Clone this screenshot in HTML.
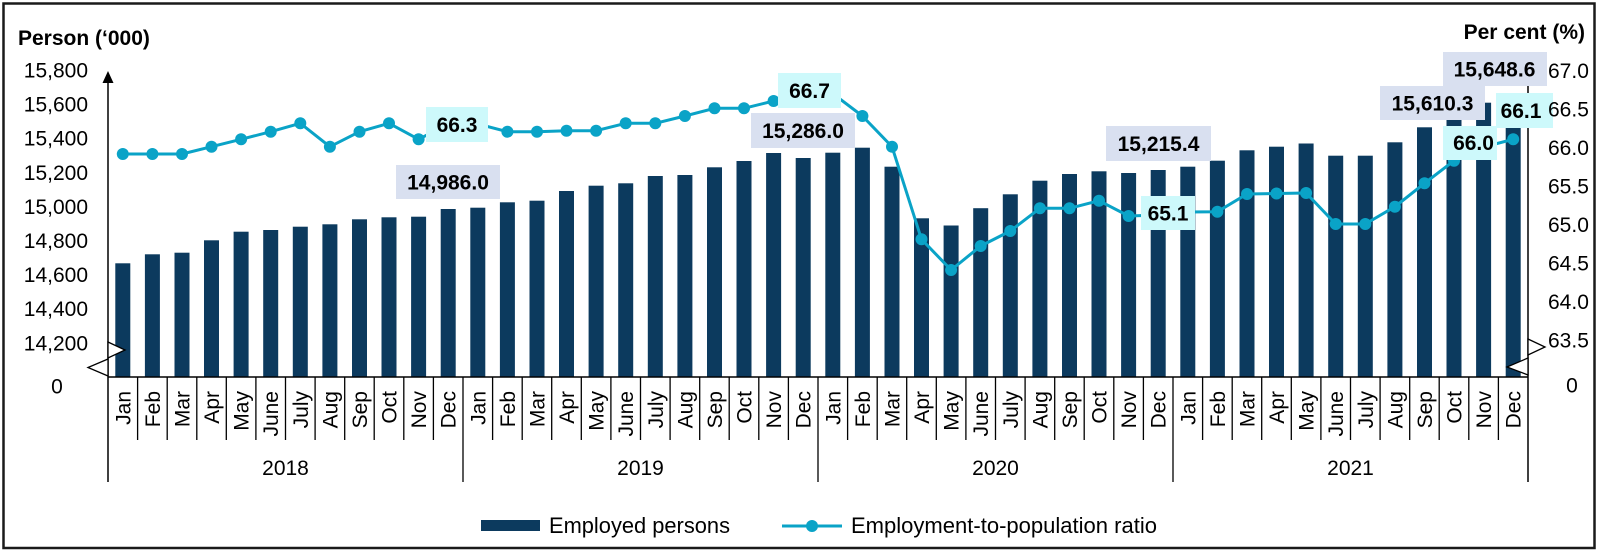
<!DOCTYPE html>
<html><head><meta charset="utf-8"><style>
html,body{margin:0;padding:0;background:#fff;}
svg{display:block;}
text{font-family:"Liberation Sans",Arial,sans-serif;fill:#000;}
.b{font-weight:bold;font-size:21px;}
.t{font-size:21px;}
</style></head><body>
<svg width="1600" height="554" viewBox="0 0 1600 554" xmlns="http://www.w3.org/2000/svg">
<rect x="0" y="0" width="1600" height="554" fill="#fff"/>
<rect x="3.5" y="3.5" width="1591" height="544.5" fill="none" stroke="#1a1a1a" stroke-width="2.5"/>

<!-- titles -->
<text class="b" x="18" y="45">Person (‘000)</text>
<text class="b" x="1585" y="39" text-anchor="end">Per cent (%)</text>

<!-- left tick labels -->
<g class="t" text-anchor="end">
<text x="88" y="77.5">15,800</text>
<text x="88" y="111.6">15,600</text>
<text x="88" y="145.7">15,400</text>
<text x="88" y="179.8">15,200</text>
<text x="88" y="213.9">15,000</text>
<text x="88" y="248">14,800</text>
<text x="88" y="282.1">14,600</text>
<text x="88" y="316.2">14,400</text>
<text x="88" y="350.3">14,200</text>
</g>
<text class="t" x="57" y="393.5" text-anchor="middle">0</text>

<!-- bars -->
<g fill="#0c3a5e">
<rect x="115.3" y="263.3" width="15" height="113.7"/>
<rect x="144.9" y="254.3" width="15" height="122.7"/>
<rect x="174.5" y="252.7" width="15" height="124.3"/>
<rect x="204.0" y="240.3" width="15" height="136.7"/>
<rect x="233.6" y="231.7" width="15" height="145.3"/>
<rect x="263.2" y="230" width="15" height="147"/>
<rect x="292.8" y="226.7" width="15" height="150.3"/>
<rect x="322.4" y="224.3" width="15" height="152.7"/>
<rect x="352.0" y="219.3" width="15" height="157.7"/>
<rect x="381.5" y="217.3" width="15" height="159.7"/>
<rect x="411.1" y="216.7" width="15" height="160.3"/>
<rect x="440.7" y="209" width="15" height="168"/>
<rect x="470.3" y="207.7" width="15" height="169.3"/>
<rect x="499.9" y="202.3" width="15" height="174.7"/>
<rect x="529.5" y="200.7" width="15" height="176.3"/>
<rect x="559.0" y="191" width="15" height="186"/>
<rect x="588.6" y="185.7" width="15" height="191.3"/>
<rect x="618.2" y="183.3" width="15" height="193.7"/>
<rect x="647.8" y="176" width="15" height="201"/>
<rect x="677.4" y="175" width="15" height="202"/>
<rect x="707.0" y="167.3" width="15" height="209.7"/>
<rect x="736.5" y="161" width="15" height="216"/>
<rect x="766.1" y="153" width="15" height="224"/>
<rect x="795.7" y="158" width="15" height="219"/>
<rect x="825.3" y="152.7" width="15" height="224.3"/>
<rect x="854.9" y="147.7" width="15" height="229.3"/>
<rect x="884.5" y="166.7" width="15" height="210.3"/>
<rect x="914.0" y="218.3" width="15" height="158.7"/>
<rect x="943.6" y="225.5" width="15" height="151.5"/>
<rect x="973.2" y="208.2" width="15" height="168.8"/>
<rect x="1002.8" y="194.3" width="15" height="182.7"/>
<rect x="1032.4" y="180.7" width="15" height="196.3"/>
<rect x="1062.0" y="174" width="15" height="203"/>
<rect x="1091.5" y="171.3" width="15" height="205.7"/>
<rect x="1121.1" y="173" width="15" height="204"/>
<rect x="1150.7" y="170" width="15" height="207"/>
<rect x="1180.3" y="166.7" width="15" height="210.3"/>
<rect x="1209.9" y="160.7" width="15" height="216.3"/>
<rect x="1239.5" y="150.3" width="15" height="226.7"/>
<rect x="1269.0" y="146.7" width="15" height="230.3"/>
<rect x="1298.6" y="143.5" width="15" height="233.5"/>
<rect x="1328.2" y="155.7" width="15" height="221.3"/>
<rect x="1357.8" y="155.7" width="15" height="221.3"/>
<rect x="1387.4" y="142.3" width="15" height="234.7"/>
<rect x="1417.0" y="127.3" width="15" height="249.7"/>
<rect x="1446.5" y="109" width="15" height="268"/>
<rect x="1476.1" y="102.7" width="15" height="274.3"/>
<rect x="1505.7" y="96" width="15" height="281"/>
</g>

<!-- axes -->
<line x1="108" y1="80" x2="108" y2="482" stroke="#000" stroke-width="1.5"/>
<polygon points="108,71 102.5,83 113.5,83" fill="#000"/>
<line x1="1528" y1="86" x2="1528" y2="482" stroke="#000" stroke-width="1.5"/>
<line x1="108" y1="377" x2="1528" y2="377" stroke="#000" stroke-width="1.5"/>

<!-- ticks -->
<path stroke="#000" stroke-width="1.3" fill="none" d="
M137.6 377V440 M167.2 377V440 M196.8 377V440 M226.3 377V440 M255.9 377V440 M285.5 377V440 M315.1 377V440 M344.7 377V440 M374.2 377V440 M403.8 377V440 M433.4 377V440
M463.0 377V482
M492.6 377V440 M522.2 377V440 M551.7 377V440 M581.3 377V440 M610.9 377V440 M640.5 377V440 M670.1 377V440 M699.7 377V440 M729.2 377V440 M758.8 377V440 M788.4 377V440
M818.0 377V482
M847.6 377V440 M877.2 377V440 M906.7 377V440 M936.3 377V440 M965.9 377V440 M995.5 377V440 M1025.1 377V440 M1054.7 377V440 M1084.2 377V440 M1113.8 377V440 M1143.4 377V440
M1173.0 377V482
M1202.6 377V440 M1232.2 377V440 M1261.7 377V440 M1291.3 377V440 M1320.9 377V440 M1350.5 377V440 M1380.1 377V440 M1409.7 377V440 M1439.2 377V440 M1468.8 377V440 M1498.4 377V440"/>

<!-- break symbols -->
<g fill="#fff" stroke="#000" stroke-width="1.3">
<polygon points="108,342 125,350 108,358"/>
<polygon points="108,359 88,367.5 108,376"/>
<polygon points="1528,339 1545,347 1528,355"/>
<polygon points="1528,358 1507,367 1528,375"/>
</g>

<!-- month labels -->
<g class="t" text-anchor="end">
<text transform="translate(130.3,391) rotate(-90)">Jan</text>
<text transform="translate(159.9,391) rotate(-90)">Feb</text>
<text transform="translate(189.5,391) rotate(-90)">Mar</text>
<text transform="translate(219.0,391) rotate(-90)">Apr</text>
<text transform="translate(248.6,391) rotate(-90)">May</text>
<text transform="translate(278.2,391) rotate(-90)">June</text>
<text transform="translate(307.8,391) rotate(-90)">July</text>
<text transform="translate(337.4,391) rotate(-90)">Aug</text>
<text transform="translate(367.0,391) rotate(-90)">Sep</text>
<text transform="translate(396.5,391) rotate(-90)">Oct</text>
<text transform="translate(426.1,391) rotate(-90)">Nov</text>
<text transform="translate(455.7,391) rotate(-90)">Dec</text>
<text transform="translate(485.3,391) rotate(-90)">Jan</text>
<text transform="translate(514.9,391) rotate(-90)">Feb</text>
<text transform="translate(544.5,391) rotate(-90)">Mar</text>
<text transform="translate(574.0,391) rotate(-90)">Apr</text>
<text transform="translate(603.6,391) rotate(-90)">May</text>
<text transform="translate(633.2,391) rotate(-90)">June</text>
<text transform="translate(662.8,391) rotate(-90)">July</text>
<text transform="translate(692.4,391) rotate(-90)">Aug</text>
<text transform="translate(722.0,391) rotate(-90)">Sep</text>
<text transform="translate(751.5,391) rotate(-90)">Oct</text>
<text transform="translate(781.1,391) rotate(-90)">Nov</text>
<text transform="translate(810.7,391) rotate(-90)">Dec</text>
<text transform="translate(840.3,391) rotate(-90)">Jan</text>
<text transform="translate(869.9,391) rotate(-90)">Feb</text>
<text transform="translate(899.5,391) rotate(-90)">Mar</text>
<text transform="translate(929.0,391) rotate(-90)">Apr</text>
<text transform="translate(958.6,391) rotate(-90)">May</text>
<text transform="translate(988.2,391) rotate(-90)">June</text>
<text transform="translate(1017.8,391) rotate(-90)">July</text>
<text transform="translate(1047.4,391) rotate(-90)">Aug</text>
<text transform="translate(1077.0,391) rotate(-90)">Sep</text>
<text transform="translate(1106.5,391) rotate(-90)">Oct</text>
<text transform="translate(1136.1,391) rotate(-90)">Nov</text>
<text transform="translate(1165.7,391) rotate(-90)">Dec</text>
<text transform="translate(1195.3,391) rotate(-90)">Jan</text>
<text transform="translate(1224.9,391) rotate(-90)">Feb</text>
<text transform="translate(1254.5,391) rotate(-90)">Mar</text>
<text transform="translate(1284.0,391) rotate(-90)">Apr</text>
<text transform="translate(1313.6,391) rotate(-90)">May</text>
<text transform="translate(1343.2,391) rotate(-90)">June</text>
<text transform="translate(1372.8,391) rotate(-90)">July</text>
<text transform="translate(1402.4,391) rotate(-90)">Aug</text>
<text transform="translate(1432.0,391) rotate(-90)">Sep</text>
<text transform="translate(1461.5,391) rotate(-90)">Oct</text>
<text transform="translate(1491.1,391) rotate(-90)">Nov</text>
<text transform="translate(1520.7,391) rotate(-90)">Dec</text>
</g>

<!-- year labels -->
<g class="t" text-anchor="middle">
<text x="285.5" y="475">2018</text>
<text x="640.5" y="475">2019</text>
<text x="995.5" y="475">2020</text>
<text x="1350.5" y="475">2021</text>
</g>

<!-- ratio line -->
<polyline fill="none" stroke="#0aa3c7" stroke-width="3" stroke-linejoin="round" points="
122.8,154 152.4,154 182.0,154 211.5,146.7 241.1,139.3 270.7,131.7 300.3,123.3 329.9,146.7 359.5,131.7 389.0,123.3 418.6,139.3 448.2,124 477.8,124 507.4,131.7 537.0,131.7 566.5,130.7 596.1,130.7 625.7,123.3 655.3,123.3 684.9,116 714.5,108.3 744.0,108.3 773.6,101 803.2,93.6 832.8,93.6 862.4,116 892.0,146.7 921.5,239.3 951.1,270 980.7,246 1010.3,231 1039.9,208.3 1069.5,208.3 1099.0,200.7 1128.6,216 1158.2,215 1187.8,212 1217.4,211.7 1247.0,194 1276.5,193.5 1306.1,193 1335.7,224 1365.3,224 1394.9,206.7 1424.5,183.3 1454.0,160.7 1483.6,147 1513.2,139.3"/>
<g fill="#0aa3c7">
<circle cx="122.8" cy="154" r="6"/><circle cx="152.4" cy="154" r="6"/><circle cx="182.0" cy="154" r="6"/><circle cx="211.5" cy="146.7" r="6"/><circle cx="241.1" cy="139.3" r="6"/><circle cx="270.7" cy="131.7" r="6"/><circle cx="300.3" cy="123.3" r="6"/><circle cx="329.9" cy="146.7" r="6"/><circle cx="359.5" cy="131.7" r="6"/><circle cx="389.0" cy="123.3" r="6"/><circle cx="418.6" cy="139.3" r="6"/><circle cx="448.2" cy="124" r="6"/><circle cx="477.8" cy="124" r="6"/><circle cx="507.4" cy="131.7" r="6"/><circle cx="537.0" cy="131.7" r="6"/><circle cx="566.5" cy="130.7" r="6"/><circle cx="596.1" cy="130.7" r="6"/><circle cx="625.7" cy="123.3" r="6"/><circle cx="655.3" cy="123.3" r="6"/><circle cx="684.9" cy="116" r="6"/><circle cx="714.5" cy="108.3" r="6"/><circle cx="744.0" cy="108.3" r="6"/><circle cx="773.6" cy="101" r="6"/><circle cx="803.2" cy="93.6" r="6"/><circle cx="832.8" cy="93.6" r="6"/><circle cx="862.4" cy="116" r="6"/><circle cx="892.0" cy="146.7" r="6"/><circle cx="921.5" cy="239.3" r="6"/><circle cx="951.1" cy="270" r="6"/><circle cx="980.7" cy="246" r="6"/><circle cx="1010.3" cy="231" r="6"/><circle cx="1039.9" cy="208.3" r="6"/><circle cx="1069.5" cy="208.3" r="6"/><circle cx="1099.0" cy="200.7" r="6"/><circle cx="1128.6" cy="216" r="6"/><circle cx="1158.2" cy="215" r="6"/><circle cx="1187.8" cy="212" r="6"/><circle cx="1217.4" cy="211.7" r="6"/><circle cx="1247.0" cy="194" r="6"/><circle cx="1276.5" cy="193.5" r="6"/><circle cx="1306.1" cy="193" r="6"/><circle cx="1335.7" cy="224" r="6"/><circle cx="1365.3" cy="224" r="6"/><circle cx="1394.9" cy="206.7" r="6"/><circle cx="1424.5" cy="183.3" r="6"/><circle cx="1454.0" cy="160.7" r="6"/><circle cx="1483.6" cy="147" r="6"/><circle cx="1513.2" cy="139.3" r="6"/>
</g>

<!-- data labels -->
<g class="b" text-anchor="middle">
<rect x="426" y="107" width="62" height="35" fill="#cdf9fb"/><text x="457" y="132">66.3</text>
<rect x="396" y="165" width="104" height="34" fill="#d9e0f0"/><text x="448" y="189.5">14,986.0</text>
<rect x="778" y="73" width="63" height="35" fill="#cdf9fb"/><text x="809.5" y="98">66.7</text>
<rect x="751" y="113" width="104" height="35" fill="#d9e0f0"/><text x="803" y="138">15,286.0</text>
<rect x="1106" y="126" width="105" height="35" fill="#d9e0f0"/><text x="1158.5" y="151">15,215.4</text>
<rect x="1141" y="196" width="54" height="34" fill="#cdf9fb"/><text x="1168" y="220.5">65.1</text>
<rect x="1380" y="86" width="105" height="34" fill="#d9e0f0"/><text x="1432.5" y="110.5">15,610.3</text>
<rect x="1443" y="52" width="104" height="34" fill="#d9e0f0"/><text x="1494.5" y="76.5">15,648.6</text>
<rect x="1443" y="126" width="54" height="34" fill="#cdf9fb"/><text x="1473.5" y="150">66.0</text>
<rect x="1496" y="93" width="57" height="35" fill="#cdf9fb"/><text x="1521" y="118">66.1</text>
</g>

<!-- right tick labels (drawn above data labels) -->
<g class="t">
<text x="1548" y="78">67.0</text>
<text x="1548" y="116.5">66.5</text>
<text x="1548" y="155">66.0</text>
<text x="1548" y="193.5">65.5</text>
<text x="1548" y="232">65.0</text>
<text x="1548" y="270.5">64.5</text>
<text x="1548" y="309">64.0</text>
<text x="1548" y="347.5">63.5</text>
</g>
<text class="t" x="1572" y="392.5" text-anchor="middle">0</text>

<!-- legend -->
<rect x="481" y="520" width="59" height="11" fill="#0c3a5e"/>
<text x="549" y="533" font-size="22" textLength="181" lengthAdjust="spacingAndGlyphs">Employed persons</text>
<line x1="782" y1="526" x2="842" y2="526" stroke="#0aa3c7" stroke-width="3"/>
<circle cx="812" cy="526" r="6" fill="#0aa3c7"/>
<text x="851" y="533" font-size="22" textLength="306" lengthAdjust="spacingAndGlyphs">Employment-to-population ratio</text>
</svg>
</body></html>
